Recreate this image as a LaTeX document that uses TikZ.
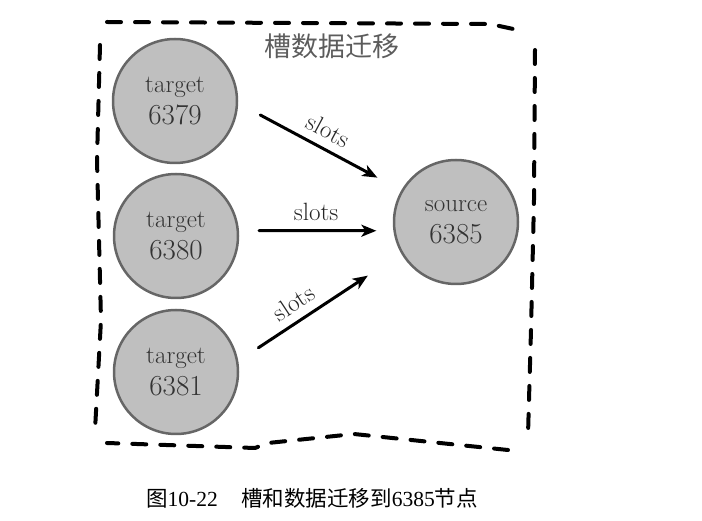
\documentclass[tikz,border=0pt]{standalone}
\usepackage{fontspec}
\newfontfamily\cjk{Noto Sans CJK SC}
\newfontfamily\tms{Liberation Serif}
\usepackage{tikz}
\definecolor{ring}{rgb}{0.4,0.4,0.4}
\definecolor{disc}{rgb}{0.75,0.75,0.75}
\definecolor{ink}{rgb}{0.2,0.2,0.2}
\usetikzlibrary{arrows.meta}
\tikzset{
    slot/.style = {circle, draw=ring, fill=disc, line width=2.5pt, minimum size=124pt, inner sep=0pt, align=center, text=ink, font=\fontsize{25}{32}\selectfont},
    move/.style = {line width=3pt, -{Stealth[length=15pt,width=12pt,inset=4pt]}},
    rim/.style = {line width=4pt, dash pattern=on 14pt off 14pt},
    tag/.style = {font=\fontsize{25}{30}\selectfont, text=black!85, sloped, above=6pt, inner sep=2pt}
}

\begin{document}
\begin{tikzpicture}[x=1pt,y=-1pt,line cap=round,line join=round]
\useasboundingbox (0,0) rectangle (702,521);
\draw [rim] (107,22) -- (300,23) -- (490,24) -- (518,30);
\draw [rim] (535,50) -- (534,200) -- (531,330) -- (528,435);
\draw [rim] (508,450) -- (440,443) -- (354,434) -- (268,443) -- (255,448) -- (107,443);
\draw [rim] (100,45) -- (97,160) -- (101,320) -- (95,430);
\node [text=ink!80] (title) at (332,46) {\cjk\fontsize{27}{30}\selectfont 槽数据迁移};
\node [slot] (t6379) at (175,101) {target\\{\fontsize{29}{32}\selectfont 6379}};
\node [slot] (t6380) at (176,236) {target\\{\fontsize{29}{32}\selectfont 6380}};
\node [slot] (t6381) at (176,372) {target\\{\fontsize{29}{32}\selectfont 6381}};
\node [slot] (s6385) at (456,222) {source\\{\fontsize{29}{32}\selectfont 6385}};
\draw [move, shorten <=25pt, shorten >=27pt] (t6379.-2) -- node[tag] {slots} (s6385.150);
\draw [move, shorten <=20pt, shorten >=17pt] (t6380.5) -- node[tag] {slots} (s6385.188);
\draw [move, shorten <=24pt, shorten >=40pt] (t6381.10) -- node[tag, pos=0.4] {slots} (s6385.210);
\node (caption) at (312,498) {\fontsize{21.5}{24}\selectfont{\cjk 图}\tms 10-22\hspace{1.1em}{\cjk 槽和数据迁移到}6385{\cjk 节点}};
\end{tikzpicture}
\end{document}
